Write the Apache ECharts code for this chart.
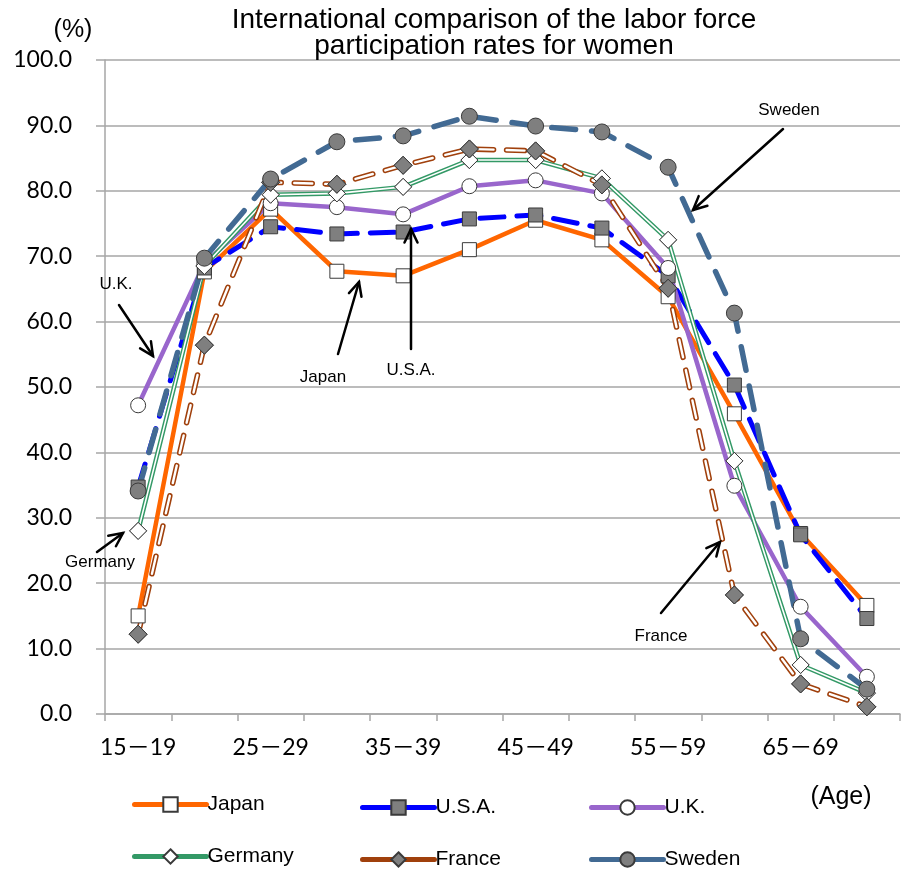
<!DOCTYPE html>
<html>
<head>
<meta charset="utf-8">
<script src="https://cdn.jsdelivr.net/npm/echarts@6/dist/echarts.min.js"></script>
<style>
html,body{margin:0;padding:0;background:#fff;}
#chart{width:905px;height:873px;}
</style>
</head>
<body>
<div id="chart"></div>
<script>
const categories = ['15－19','20－24','25－29','30－34','35－39','40－44','45－49','50－54','55－59','60－64','65－69','70－74'];
const japan   = [15.0, 67.6, 77.2, 67.7, 67.0, 71.0, 75.5, 72.5, 63.8, 45.9, 27.6, 16.6];
const usa     = [34.7, 68.2, 74.5, 73.4, 73.7, 75.7, 76.3, 74.3, 67.0, 50.3, 27.4, 14.6];
const uk      = [47.2, 68.9, 78.1, 77.5, 76.4, 80.7, 81.6, 79.6, 68.2, 34.9, 16.4, 5.7];
const germany = [28.0, 68.5, 79.4, 79.6, 80.6, 84.7, 84.7, 81.9, 72.5, 38.7, 7.5, 3.2];
const france  = [12.2, 56.4, 81.3, 81.0, 83.9, 86.4, 86.1, 80.9, 65.1, 18.2, 4.6, 1.1];
const sweden  = [34.1, 69.7, 81.8, 87.5, 88.4, 91.4, 89.9, 89.0, 83.6, 61.3, 11.5, 3.8];
const yTicks = {min: 0, max: 100, interval: 10};

const SANS = '"Liberation Sans", Arial, sans-serif';
const LATO = 'Lato, "Noto Sans CJK JP", sans-serif';
const GRID_COLOR = '#A6A6A6';
const BORDER = '#3a3a3a';

const chart = echarts.init(document.getElementById('chart'), null, {renderer: 'canvas'});

function arrow(x1, y1, x2, y2) {
  const ang = Math.atan2(y2 - y1, x2 - x1);
  const L = 15, a = Math.PI / 7;
  const p1 = [x2 - L * Math.cos(ang - a), y2 - L * Math.sin(ang - a)];
  const p2 = [x2 - L * Math.cos(ang + a), y2 - L * Math.sin(ang + a)];
  const st = {stroke: '#000', lineWidth: 2.5, fill: null, lineCap: 'round', lineJoin: 'miter'};
  return [
    {type: 'polyline', shape: {points: [[x1, y1], [x2, y2]]}, style: st, z: 100},
    {type: 'polyline', shape: {points: [p1, [x2, y2], p2]}, style: st, z: 100}
  ];
}
function label(text, x, y, size, align) {
  return {type: 'text', x: x, y: y, z: 100,
    style: {text: text, font: size + 'px ' + SANS, fill: '#000', textAlign: align || 'center', textVerticalAlign: 'middle'}};
}

function legendAt(name, left, top, dashed) {
  return {
    data: [name], left: left, top: top, orient: 'horizontal',
    itemWidth: 72, itemHeight: 18, itemGap: 0, padding: 0,
    lineStyle: {width: 5, type: dashed ? [30, 13] : 'solid', cap: 'round'},
    textStyle: {fontFamily: SANS, fontSize: 21, color: '#000', padding: [0, 0, 0, -4]},
    selectedMode: false
  };
}

const base = {type: 'line', animation: false, smooth: false};

const series = [
  Object.assign({}, base, {
    name: 'Japan', data: japan, symbol: 'rect', symbolSize: 14,
    lineStyle: {color: '#FF6600', width: 4.5},
    itemStyle: {color: '#FFFFFF', borderColor: BORDER, borderWidth: 1}
  }),
  Object.assign({}, base, {
    name: 'U.S.A.', data: usa, symbol: 'rect', symbolSize: 14,
    lineStyle: {color: '#0000FF', width: 5, type: [24, 13], cap: 'round'},
    itemStyle: {color: '#7F7F7F', borderColor: BORDER, borderWidth: 1}
  }),
  Object.assign({}, base, {
    name: 'U.K.', data: uk, symbol: 'circle', symbolSize: 15,
    lineStyle: {color: '#9966CC', width: 4.5},
    itemStyle: {color: '#FFFFFF', borderColor: BORDER, borderWidth: 1}
  }),
  Object.assign({}, base, {
    name: 'Germany', data: germany, symbol: 'diamond', symbolSize: 17,
    lineStyle: {color: '#339966', width: 4.5},
    itemStyle: {color: '#FFFFFF', borderColor: BORDER, borderWidth: 1}
  }),
  Object.assign({}, base, {
    name: 'Germany_in', data: germany, symbol: 'none', silent: true,
    lineStyle: {color: '#FFFFFF', width: 1.6}
  }),
  Object.assign({}, base, {
    name: 'Germany_mk', data: germany, symbol: 'diamond', symbolSize: 17, silent: true,
    lineStyle: {width: 0, opacity: 0},
    itemStyle: {color: '#FFFFFF', borderColor: BORDER, borderWidth: 1}
  }),
  Object.assign({}, base, {
    name: 'France', data: france, symbol: 'diamond', symbolSize: 18,
    lineStyle: {color: '#A0400C', width: 5.5, type: [18, 13], cap: 'round'},
    itemStyle: {color: '#7F7F7F', borderColor: BORDER, borderWidth: 1}
  }),
  Object.assign({}, base, {
    name: 'France_in', data: france, symbol: 'none', silent: true,
    lineStyle: {color: '#FFFFFF', width: 2.4, type: [18, 13], cap: 'round'}
  }),
  Object.assign({}, base, {
    name: 'France_mk', data: france, symbol: 'diamond', symbolSize: 18, silent: true,
    lineStyle: {width: 0, opacity: 0},
    itemStyle: {color: '#7F7F7F', borderColor: BORDER, borderWidth: 1}
  }),
  Object.assign({}, base, {
    name: 'Sweden', data: sweden, symbol: 'circle', symbolSize: 16,
    lineStyle: {color: '#426A93', width: 5.5, type: [24, 16], cap: 'round'},
    itemStyle: {color: '#7F7F7F', borderColor: BORDER, borderWidth: 1}
  })
];

const graphics = [
  {type: 'text', x: 494, y: 7, z: 100,
    style: {text: 'International comparison of the labor force\nparticipation rates for women',
      font: '28px ' + SANS, fill: '#000', textAlign: 'center', lineHeight: 26}},
  label('(%)', 73, 30, 25),
  label('(Age)', 841, 797, 25),
  label('Sweden', 789, 110, 17),
  label('U.K.', 116, 284, 17),
  label('Japan', 323, 377, 17),
  label('U.S.A.', 411, 370, 17),
  label('Germany', 100, 562, 17),
  label('France', 661, 636, 17)
].concat(
  arrow(783, 129, 693, 210),
  arrow(119, 305, 153, 356),
  arrow(338, 354, 359, 282),
  arrow(411, 349, 411, 229),
  arrow(97, 552, 123, 533),
  arrow(661, 613, 720, 542)
);

const option = {
  animation: false,
  backgroundColor: '#fff',
  grid: {left: 105, right: 5, top: 60, bottom: 159, containLabel: false},
  xAxis: {
    type: 'category', data: categories, boundaryGap: true,
    axisLine: {show: true, lineStyle: {color: GRID_COLOR, width: 1.5}},
    axisTick: {show: true, alignWithLabel: false, interval: 0, length: 7, lineStyle: {color: GRID_COLOR, width: 1.5}},
    axisLabel: {interval: 1, margin: 22, fontFamily: LATO, fontSize: 23, color: '#000'},
    splitLine: {show: false}
  },
  yAxis: {
    type: 'value', min: yTicks.min, max: yTicks.max, interval: yTicks.interval,
    axisLine: {show: true, lineStyle: {color: GRID_COLOR, width: 1.5}},
    axisTick: {show: true, length: 9, lineStyle: {color: GRID_COLOR, width: 1.5}},
    axisLabel: {margin: 33, fontFamily: LATO, fontSize: 23, color: '#000', formatter: v => v.toFixed(1)},
    splitLine: {show: true, lineStyle: {color: GRID_COLOR, width: 1.5}}
  },
  legend: [
    legendAt('Japan', 132, 794, false),
    legendAt('U.S.A.', 360, 797, true),
    legendAt('U.K.', 589, 797, false),
    legendAt('Germany', 132, 846, false),
    legendAt('France', 360, 849, true),
    legendAt('Sweden', 589, 849, true)
  ],
  series: series,
  graphic: graphics
};
chart.setOption(option);
</script>
</body>
</html>
